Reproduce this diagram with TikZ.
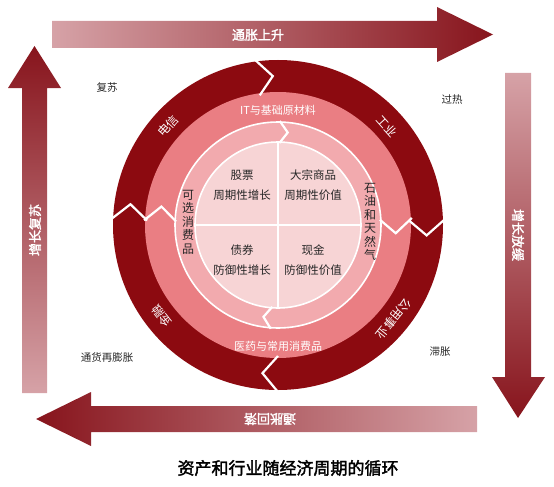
\documentclass[tikz,border=0pt]{standalone}
\usepackage{fontspec}
\newfontfamily\cjk{Noto Sans CJK SC}
\newfontfamily\cjkbold[FakeBold=2]{Noto Sans CJK SC}

\definecolor{arrowlight}{RGB}{214,162,167}
\definecolor{arrowdark}{RGB}{135,20,28}
\definecolor{ringred}{RGB}{140,10,16}
\definecolor{midpink}{RGB}{234,126,131}
\definecolor{thirdpink}{RGB}{242,170,174}
\definecolor{innerpink}{RGB}{247,212,213}

\begin{document}
\begin{tikzpicture}[x=1pt,y=1pt,
    arrow label/.style={text=white,font=\cjkbold\fontsize{13}{13}\selectfont},
    ring label/.style={text=white,inner sep=0pt,font=\cjk\fontsize{12}{12}\selectfont},
    band label/.style={text=white,inner sep=1pt,font=\cjk\fontsize{11}{11}\selectfont},
    stack label/.style={text=black!85,inner sep=0pt,align=center,font=\cjk\fontsize{12}{13.5}\selectfont},
    asset label/.style={text=black!85,align=center,font=\cjk\fontsize{11.5}{20}\selectfont},
    phase label/.style={text=black!85,font=\cjk\fontsize{10.5}{11}\selectfont},
    gap line/.style={white,line width=2.2pt,line join=miter}]

    \useasboundingbox (0,0) rectangle (554,-487);
    \coordinate (c) at (278,-225);

    % Define arrows
    \shade[left color=arrowlight,right color=arrowdark]
        (52,-21) -- (437,-21) -- (437,-7) -- (493,-34.5) -- (437,-62) -- (437,-48) -- (52,-48) -- cycle;
    \shade[top color=arrowlight,bottom color=arrowdark]
        (505,-73) -- (531,-73) -- (531,-377) -- (545,-377) -- (518,-418) -- (492,-377) -- (505,-377) -- cycle;
    \shade[left color=arrowdark,right color=arrowlight]
        (477,-406) -- (91,-406) -- (91,-392) -- (36,-419) -- (91,-446) -- (91,-432) -- (477,-432) -- cycle;
    \shade[top color=arrowdark,bottom color=arrowlight]
        (22,-393) -- (22,-88) -- (8,-88) -- (34.5,-46) -- (61,-88) -- (47,-88) -- (47,-393) -- cycle;

    \node[arrow label] (rising) at (258,-35) {通胀上升};
    \node[arrow label,rotate=-90] (slowing) at (518,-235) {增长放缓};
    \node[arrow label,rotate=180] (falling) at (270,-419) {通胀回落};
    \node[arrow label,rotate=90] (growing) at (35,-230) {增长复苏};

    % Define rings
    \begin{scope}[shift={(c)}]
        \fill[ringred] (0,0) circle[radius=165];
        \fill[midpink] (0,0) circle[radius=133];
        \fill[thirdpink] (0,0) circle[radius=103];
        \fill[innerpink] (0,0) circle[radius=83];
        \draw[white,line width=1.6pt] (0,0) circle[radius=103];
        \draw[white,line width=1.6pt] (0,0) circle[radius=83];
        \draw[white,line width=1.6pt] (180:83) -- (0:83) (90:83) -- (270:83);

        \foreach \a in {92,-4,-96,172}
            \draw[gap line] (\a+6:167) -- (\a:149) -- (\a+6:131);
        \foreach \a in {-4,171}
            \draw[gap line] (\a+7:134) -- (\a:118) -- (\a+7:102);
        \foreach \a in {84,-99}
            \draw[gap line] (\a+5:104) -- (\a:93) -- (\a+5:82);

        \node[ring label,rotate=48] (telecom) at (138:148) {电信};
        \node[ring label,rotate=-48] (industry) at (42:147) {工业};
        \node[ring label,rotate=-129] (utility) at (-39:149) {公用事业};
        \node[ring label,rotate=128] (finance) at (-142:148) {金融};

        \node[band label] (material) at (90:115) {IT与基础原材料};
        \node[band label] (staples) at (-90:121) {医药与常用消费品};

        \node[stack label] (discretionary) at (-90,3) {可\\选\\消\\费\\品};
        \node[stack label] (energy) at (92,3) {石\\油\\和\\天\\然\\气};

        \node[asset label] (stock) at (-36,40) {股票\\周期性增长};
        \node[asset label] (commodity) at (35,40) {大宗商品\\周期性价值};
        \node[asset label] (bond) at (-36,-35) {债券\\防御性增长};
        \node[asset label] (cash) at (35,-35) {现金\\防御性价值};
    \end{scope}

    \node[phase label] (recovery) at (107,-88) {复苏};
    \node[phase label] (overheat) at (452,-100) {过热};
    \node[phase label] (reflation) at (107,-358) {通货再膨胀};
    \node[phase label] (stagflation) at (440,-352) {滞胀};

    \node[font=\cjkbold\fontsize{17}{17}\selectfont] (title) at (288,-468) {资产和行业随经济周期的循环};

\end{tikzpicture}
\end{document}
